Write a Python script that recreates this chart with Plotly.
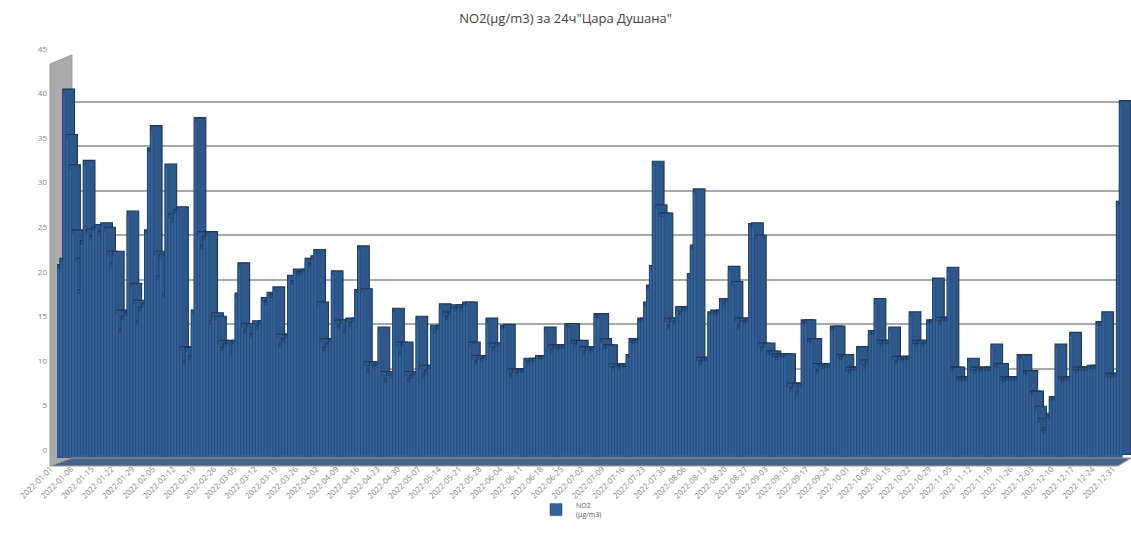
import datetime as dt
import plotly.graph_objects as go

# Daily NO2 (µg/m3), 24h averages, 2022 – one list per month
jan = [21.3, 22.0, 41.0, 35.9, 32.5, 25.2, 22.0, 18.5, 24.0, 33.0, 25.3, 24.5, 25.5, 25.8, 25.0, 26.0,
       25.5, 22.8, 21.5, 22.8, 16.2, 14.0, 15.5, 16.0, 27.3, 19.2, 17.3, 15.0, 16.5, 17.0, 25.2]
feb = [34.4, 36.9, 22.8, 20.0, 22.5, 18.0, 32.6, 27.0, 26.5, 27.5, 27.8, 12.1, 10.5, 12.0, 11.0, 16.2,
       37.8, 25.0, 23.5, 24.5, 25.0, 15.0, 15.9, 15.5, 12.8, 12.0, 12.5, 12.8]
mar = [11.5, 12.8, 18.1, 21.5, 14.7, 14.0, 14.7, 13.5, 15.0, 14.5, 15.0, 17.6, 17.2, 18.2, 18.0, 18.8,
       13.5, 12.5, 13.0, 13.5, 20.1, 19.5, 20.8, 20.5, 20.6, 20.8, 22.0, 21.5, 22.3, 23.0, 17.1]
apr = [13.0, 12.0, 12.5, 13.0, 20.6, 15.1, 14.5, 15.1, 14.0, 15.3, 14.8, 15.3, 18.5, 23.4, 18.6, 10.4,
       9.5, 10.4, 10.0, 10.4, 14.3, 9.3, 8.5, 9.3, 9.0, 16.4, 12.6, 11.5, 12.6, 9.3]
may = [8.5, 9.0, 9.3, 15.5, 10.0, 9.0, 9.5, 10.0, 14.5, 14.0, 14.5, 16.9, 16.0, 15.5, 16.0, 16.8,
       16.5, 16.8, 16.5, 17.1, 17.1, 12.6, 11.1, 10.5, 11.1, 10.8, 11.1, 15.3, 12.5, 12.0, 12.5]
jun = [12.5, 14.5, 14.6, 9.6, 9.0, 9.6, 9.2, 9.6, 9.6, 10.8, 10.5, 10.8, 10.8, 11.1, 11.0, 11.1,
       14.3, 12.3, 11.8, 12.3, 12.0, 12.3, 12.3, 14.7, 14.7, 12.8, 12.5, 12.8, 12.1, 11.5]
jul = [12.1, 11.8, 12.1, 15.8, 15.8, 13.0, 12.3, 12.3, 10.2, 9.8, 10.2, 10.0, 10.2, 10.2, 11.2, 13.0,
       12.8, 13.0, 15.3, 15.3, 17.1, 19.0, 21.2, 32.9, 28.0, 27.1, 27.1, 15.3, 14.5, 15.3, 15.0]
aug = [16.6, 16.0, 16.6, 16.6, 20.3, 23.5, 29.8, 10.9, 10.5, 10.9, 10.9, 16.0, 16.2, 16.0, 16.2, 17.5,
       17.0, 17.5, 21.1, 19.4, 15.3, 14.5, 15.3, 15.0, 15.3, 25.9, 26.0, 24.6, 12.5, 12.0, 12.5]
sep = [11.6, 11.6, 11.3, 11.0, 11.3, 11.3, 11.3, 8.0, 7.5, 8.0, 7.0, 8.0, 15.1, 15.1, 13.0, 13.0,
       10.2, 9.5, 10.2, 10.0, 10.2, 10.2, 14.4, 14.4, 11.2, 11.0, 11.2, 9.8, 9.5, 9.8]
oct_ = [9.8, 12.1, 10.6, 10.0, 10.6, 13.9, 13.9, 17.5, 12.8, 12.5, 12.8, 12.8, 14.3, 11.0, 10.5, 11.0,
        10.8, 11.0, 11.0, 16.0, 12.8, 12.5, 12.8, 12.5, 12.8, 15.1, 15.1, 19.8, 15.4, 15.0, 15.4]
nov = [15.4, 21.0, 9.8, 9.8, 8.7, 8.5, 8.7, 8.7, 10.8, 9.8, 9.5, 9.8, 9.6, 9.8, 9.8, 9.8,
       12.4, 10.2, 10.2, 8.7, 8.5, 8.7, 8.7, 8.7, 8.7, 11.2, 11.2, 9.4, 9.4, 7.1]
dec = [7.1, 5.4, 4.0, 3.0, 2.8, 4.5, 6.5, 6.5, 12.4, 8.7, 8.5, 8.7, 8.7, 13.7, 9.8, 9.5,
       9.8, 9.8, 9.8, 10.0, 10.0, 10.0, 14.9, 14.9, 16.0, 9.1, 9.1, 9.0, 9.1, 28.4, 39.7]

values = jan + feb + mar + apr + may + jun + jul + aug + sep + oct_ + nov + dec
start = dt.date(2022, 1, 1)
dates = [(start + dt.timedelta(days=i)).isoformat() for i in range(len(values))]
tick_dates = dates[::7]

title_text = 'NO2(µg/m3) за 24ч"Цара Душана"'
legend_name = "NO2<br>(µg/m3)"

W, H = 1131, 554
L, R, T, B = 57, 0, 57, 96
PW, PH = W - L - R, H - T - B


def px(xp):
    return (xp - L) / PW


def py(yp):
    return (H - B - yp) / PH


fig = go.Figure()

# depth / side faces of the 3-D columns (drawn behind the front faces)
fig.add_trace(go.Bar(
    x=dates, y=values, base=0.4, offset=-0.5, width=4.0,
    marker=dict(color="#2d5889", line=dict(color="#1b365b", width=1.1)),
    showlegend=False, hoverinfo="skip"))

# front faces
fig.add_trace(go.Bar(
    x=dates, y=values, offset=-0.5, width=1.0, name=legend_name,
    marker=dict(color="#34629a", line=dict(color="#23446d", width=0.5)),
    showlegend=True))

wall = (f"M {px(50)},{py(466)} L {px(50)},{py(64)} L {px(72)},{py(55)} "
        f"L {px(72)},{py(458)} Z")
floor = (f"M {px(50)},{py(466)} L {px(1118)},{py(466)} L {px(1131)},{py(458)} "
         f"L {px(72)},{py(458)} Z")

fig.update_layout(
    width=W, height=H,
    margin=dict(l=L, r=R, t=T, b=B, autoexpand=False),
    paper_bgcolor="white", plot_bgcolor="white",
    barmode="overlay",
    font=dict(family="Open Sans, DejaVu Sans, sans-serif", color="#595959"),
    title=dict(text=title_text, x=0.5, xanchor="center", y=1 - 18 / H, yanchor="middle",
               font=dict(size=13, color="#404040")),
    xaxis=dict(type="category", range=[-0.5, 367.5], tickmode="array",
               tickvals=tick_dates, ticktext=tick_dates, tickangle=-45,
               tickfont=dict(size=8, color="#858585"), showgrid=False, zeroline=False,
               showline=False, ticks="", automargin=False, ticklabelstandoff=4,
               ticklabelshift=-8, fixedrange=True),
    yaxis=dict(range=[0, 45], tickmode="linear", tick0=0, dtick=5,
               tickfont=dict(size=8, color="#858585"), gridcolor="#a9a9a9", gridwidth=1.5,
               zeroline=False, showline=False, ticks="", automargin=False,
               ticklabelstandoff=9, ticklabelshift=-8, fixedrange=True),
    legend=dict(orientation="v", x=px(536), xanchor="left", y=py(494), yanchor="top",
                font=dict(size=7, color="#595959"), itemwidth=30,
                bgcolor="rgba(0,0,0,0)", tracegroupgap=0),
    shapes=[
        dict(type="path", path=wall, xref="paper", yref="paper", layer="between",
             fillcolor="#ababab", line=dict(color="#9a9a9a", width=1)),
        dict(type="path", path=floor, xref="paper", yref="paper", layer="above",
             fillcolor="#4a6488", line=dict(color="#9a9a9a", width=1)),
    ],
)

fig.write_html("out.html")
